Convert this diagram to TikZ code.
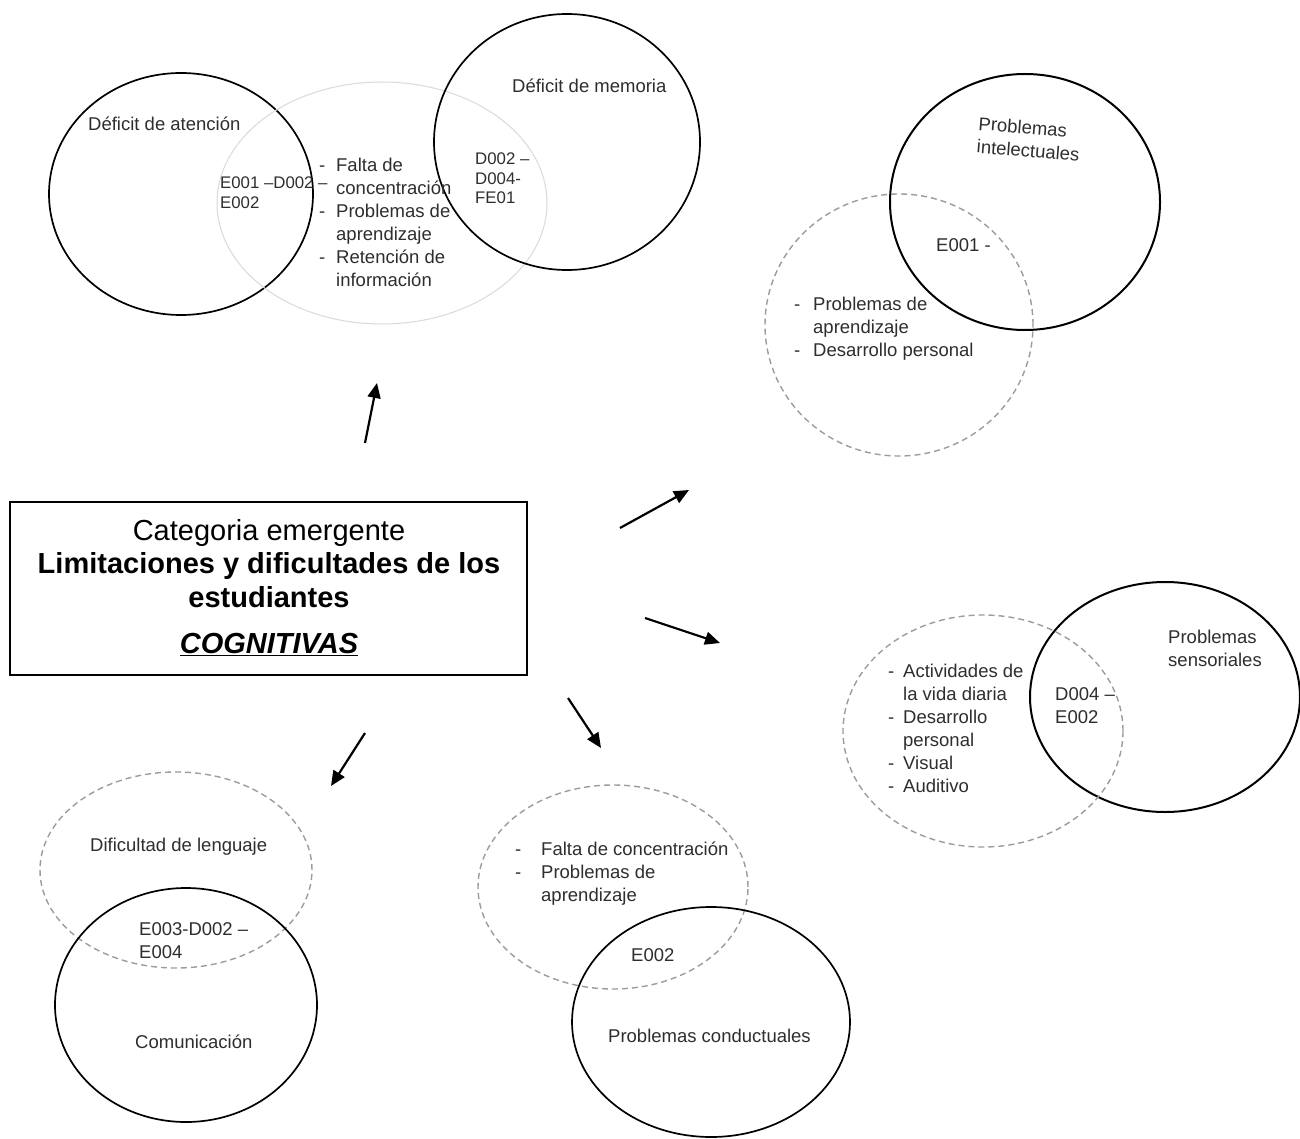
\documentclass[tikz,border=0pt]{standalone}
\usepackage{fontspec}
\setmainfont{Liberation Sans}
\usetikzlibrary{shapes.geometric,arrows.meta}
\definecolor{txt}{HTML}{2E2E2E}
\definecolor{dashgray}{HTML}{9C9C9C}
\definecolor{faintgray}{HTML}{DADADA}
\begin{document}
\begin{tikzpicture}[x=1pt,y=-1pt,
  solidc/.style={draw=black, line width=1.7pt, ellipse, inner sep=0pt},
  dashc/.style={draw=dashgray, line width=1.4pt, dash pattern=on 6pt off 4pt, ellipse, inner sep=0pt},
  faintc/.style={draw=faintgray, line width=1pt, ellipse, inner sep=0pt},
  lbl/.style={anchor=base west, inner sep=0pt, text=txt, font=\fontsize{18.5}{23}\selectfont},
  codelbl/.style={anchor=base west, inner sep=0pt, text=txt, font=\fontsize{16.8}{19.5}\selectfont},
  arr/.style={line width=2.2pt, -{Triangle[length=15pt,width=13pt]}},
]
\useasboundingbox (0,0) rectangle (1300,1139);
\fill[white] (0,0) rectangle (1300,1139);

% ---------- ellipses ----------
\node[solidc, minimum width=264pt, minimum height=242pt] (att) at (181,194) {};
\node[faintc, minimum width=330pt, minimum height=242pt] (faint) at (382,203) {};
\node[solidc, minimum width=266pt, minimum height=256pt] (mem) at (567,142) {};
\node[solidc, line width=2pt, minimum width=270pt, minimum height=256pt] (intel) at (1025,202) {};
\node[dashc, minimum width=268pt, minimum height=262pt] (inteld) at (899,325) {};
\node[solidc, line width=2pt, minimum width=270pt, minimum height=230pt] (sens) at (1165,697) {};
\node[dashc, minimum width=280pt, minimum height=232pt] (sensd) at (983,731) {};
\node[dashc, minimum width=272pt, minimum height=196pt] (leng) at (176,870) {};
\node[solidc, minimum width=262pt, minimum height=234pt] (comu) at (186,1005) {};
\node[dashc, minimum width=270pt, minimum height=204pt] (falta) at (613,887) {};
\node[solidc, minimum width=278pt, minimum height=230pt] (cond) at (711,1022) {};

% ---------- labels: top-left group ----------
\node[lbl] (tmem) at (512,93) {Déficit de memoria};
\node[lbl] (tatt) at (88,131) {Déficit de atención};
\node[codelbl] (catt) at (220,189) {\begin{tabular}[t]{@{}l@{}}E001 –D002 –\\E002\end{tabular}};
\node[codelbl] (cmem) at (475,165) {\begin{tabular}[t]{@{}l@{}}D002 –\\D004-\\FE01\end{tabular}};
\node[lbl] (latt) at (319,172) {\begin{tabular}[t]{@{}l@{}l@{}}
\makebox[17pt][l]{-} & Falta de\\
 & concentración\\
\makebox[17pt][l]{-} & Problemas de\\
 & aprendizaje\\
\makebox[17pt][l]{-} & Retención de\\
 & información\end{tabular}};

% ---------- labels: intelectuales ----------
\node[lbl, rotate=-4.5] (tint) at (978,130) {\begin{tabular}[t]{@{}l@{}}Problemas\\intelectuales\end{tabular}};
\node[lbl] (cint) at (936,252) {E001 -};
\node[lbl] (lint) at (794,311) {\begin{tabular}[t]{@{}l@{}l@{}}
\makebox[19pt][l]{-} & Problemas de\\
 & aprendizaje\\
\makebox[19pt][l]{-} & Desarrollo personal\end{tabular}};

% ---------- labels: sensoriales ----------
\node[lbl] (tsen) at (1168,643) {\begin{tabular}[t]{@{}l@{}}Problemas\\sensoriales\end{tabular}};
\node[lbl] (csen) at (1055,700) {\begin{tabular}[t]{@{}l@{}}D004 –\\E002\end{tabular}};
\node[lbl] (lsen) at (888,677) {\begin{tabular}[t]{@{}l@{}l@{}}
\makebox[15pt][l]{-} & Actividades de\\
 & la vida diaria\\
\makebox[15pt][l]{-} & Desarrollo\\
 & personal\\
\makebox[15pt][l]{-} & Visual\\
\makebox[15pt][l]{-} & Auditivo\end{tabular}};

% ---------- labels: lenguaje / comunicacion ----------
\node[lbl] (tleng) at (90,851) {Dificultad de lenguaje};
\node[lbl] (cleng) at (139,935) {\begin{tabular}[t]{@{}l@{}}E003-D002 –\\E004\end{tabular}};
\node[lbl] (tcom) at (135,1048) {Comunicación};

% ---------- labels: conductuales ----------
\node[lbl] (lfalta) at (515,855) {\begin{tabular}[t]{@{}l@{}l@{}}
\makebox[26pt][l]{-} & Falta de concentración\\
\makebox[26pt][l]{-} & Problemas de\\
 & aprendizaje\end{tabular}};
\node[lbl] (ccond) at (631,961) {E002};
\node[lbl] (tcond) at (608,1042) {Problemas conductuales};

% ---------- central box ----------
\node[draw=black, line width=1.5pt, minimum width=517pt, minimum height=173pt, inner sep=0pt] (box) at (268.5,588.5) {};
\node[anchor=base, inner sep=0pt, font=\fontsize{29}{33.5}\selectfont] (title) at (269,540) {\begin{tabular}[t]{@{}c@{}}
Categoria emergente\\
\textbf{Limitaciones y dificultades de los}\\
\textbf{estudiantes}\\[13pt]
\underline{\textbf{\textit{COGNITIVAS}}}\end{tabular}};

% ---------- arrows ----------
\coordinate (a1s) at (365,443); \coordinate (a1e) at (377,383);
\coordinate (a2s) at (620,528); \coordinate (a2e) at (689,490);
\coordinate (a3s) at (645,618); \coordinate (a3e) at (720,643);
\coordinate (a4s) at (568,698); \coordinate (a4e) at (601,748);
\coordinate (a5s) at (365,733); \coordinate (a5e) at (331,786);
\draw[arr] (a1s) -- (a1e);
\draw[arr] (a2s) -- (a2e);
\draw[arr] (a3s) -- (a3e);
\draw[arr] (a4s) -- (a4e);
\draw[arr] (a5s) -- (a5e);
\end{tikzpicture}
\end{document}
